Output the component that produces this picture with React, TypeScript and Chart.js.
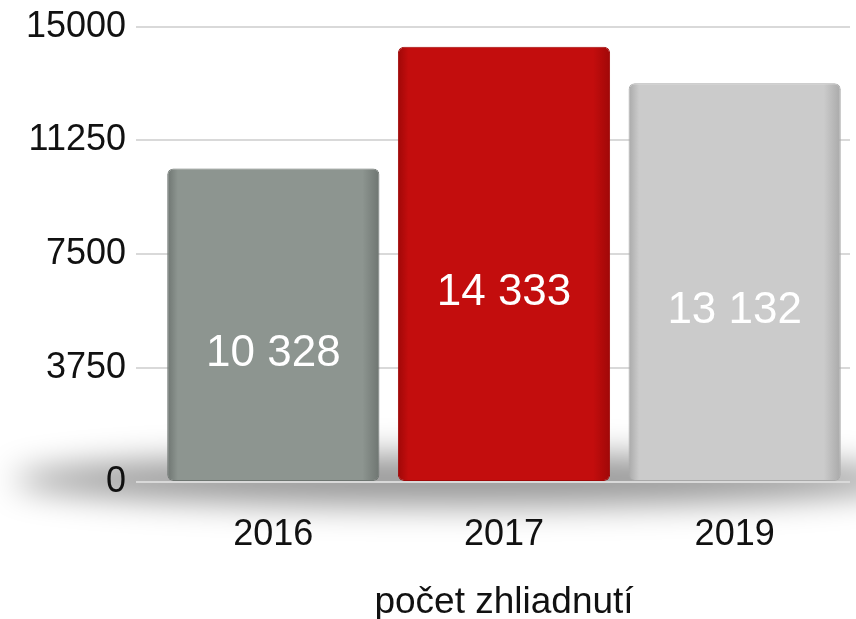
import React, { useEffect, useRef } from "react";
import { Chart, registerables } from "chart.js";

Chart.register(...registerables);

const categories = ["2016", "2017", "2019"];
const values = [10328, 14333, 13132];
const yTickValues = [0, 3750, 7500, 11250, 15000];
const barColors = ["#8d9590", "#c30d0d", "#cbcbcb"];
const barEdgeColors = ["#6e7571", "#a00808", "#a9a9a9"];
const axisTitle = "počet zhliadnutí";

const FONT = "'Liberation Sans', Arial, Helvetica, sans-serif";

const fmt = (v: number) => String(v).replace(/\B(?=(\d{3})+(?!\d))/g, " ");

const shadowPlugin = {
  id: "floorShadow",
  beforeDraw(chart: any) {
    const { ctx, chartArea } = chart;
    const yBase = chart.scales.y.getPixelForValue(0);
    ctx.save();
    ctx.filter = "blur(16px)";
    ctx.fillStyle = "rgba(0,0,0,0.4)";
    ctx.beginPath();
    ctx.ellipse((chartArea.left + chartArea.right) / 2 - 40, yBase - 2, 450, 26, 0, 0, Math.PI * 2);
    ctx.fill();
    ctx.restore();
  },
};

const labelPlugin = {
  id: "barLabels",
  afterDatasetsDraw(chart: any) {
    const { ctx } = chart;
    const meta = chart.getDatasetMeta(0);
    ctx.save();
    ctx.fillStyle = "#ffffff";
    ctx.font = `44px ${FONT}`;
    ctx.textAlign = "center";
    ctx.textBaseline = "middle";
    meta.data.forEach((bar: any, i: number) => {
      const p = bar.getProps(["x", "y", "base"], true);
      ctx.fillText(fmt(values[i]), p.x, (p.y + p.base) / 2 + 29);
    });
    ctx.restore();
  },
};

export default function App() {
  const ref = useRef<HTMLCanvasElement>(null);
  useEffect(() => {
    if (!ref.current) return;
    const chart = new Chart(ref.current, {
      type: "bar",
      data: {
        labels: categories,
        datasets: [
          {
            data: values,
            backgroundColor: (c: any) => {
              const i = c.dataIndex;
              const base = barColors[i];
              const el: any = c.chart.getDatasetMeta(0).data[i];
              if (!el || !Number.isFinite(el.x) || !Number.isFinite(el.width) || el.width <= 0) return base;
              const w = el.width;
              const x0 = el.x - w / 2;
              const g = c.chart.ctx.createLinearGradient(x0, 0, x0 + w, 0);
              g.addColorStop(0, barEdgeColors[i]);
              g.addColorStop(0.05, base);
              g.addColorStop(0.92, base);
              g.addColorStop(1, barEdgeColors[i]);
              return g;
            },
            borderColor: barEdgeColors,
            borderWidth: 1,
            borderRadius: 6,
            borderSkipped: false,
            categoryPercentage: 0.92,
            barPercentage: 1,
          },
        ],
      },
      options: {
        responsive: false,
        animation: false,
        layout: { padding: { top: 4, right: 6, left: 8, bottom: 0 } },
        plugins: { legend: { display: false }, tooltip: { enabled: false } },
        scales: {
          x: {
            afterFit: (s: any) => {
              s.height = 143;
            },
            grid: { display: false, drawTicks: false },
            border: { display: false },
            ticks: { color: "#111", font: { family: FONT, size: 36 }, padding: 31 },
            title: {
              display: true,
              text: axisTitle,
              color: "#111",
              font: { family: FONT, size: 37 },
              padding: { top: 0, bottom: 0 },
            },
          },
          y: {
            min: 0,
            max: 15000,
            afterBuildTicks: (s: any) => {
              s.ticks = yTickValues.map((v) => ({ value: v }));
            },
            afterFit: (s: any) => {
              s.width = 150;
            },
            grid: { color: "#d9d9d9", lineWidth: 2, tickLength: 22, drawTicks: true },
            border: { display: false },
            ticks: {
              color: "#111",
              font: { family: FONT, size: 36 },
              padding: 10,
              callback: (v: any) => String(v),
            },
          },
        },
      },
      plugins: [shadowPlugin, labelPlugin],
    });
    chart.update();
    return () => chart.destroy();
  }, []);
  return (
    <div style={{ position: "fixed", left: 0, top: 0, width: 856, height: 619, overflow: "hidden", background: "#fff" }}>
      <canvas ref={ref} width={856} height={630} style={{ position: "absolute", left: 0, top: -5 }} />
    </div>
  );
}
